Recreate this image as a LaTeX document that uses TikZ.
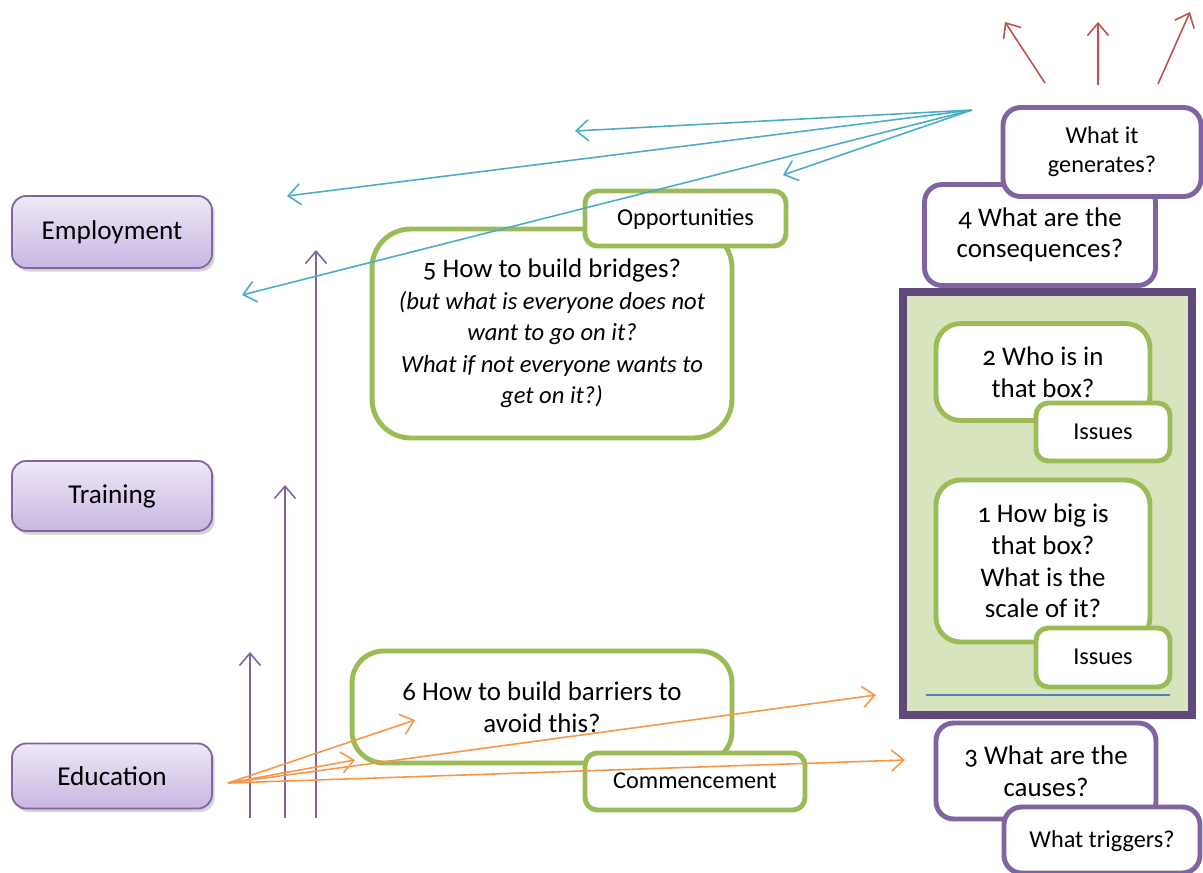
\documentclass[tikz,border=0pt]{standalone}
\usepackage{fontspec}
\setmainfont{Carlito}[Numbers=OldStyle]
\usetikzlibrary{arrows.meta,shadows}
\definecolor{purB}{HTML}{8064A2}
\definecolor{purD}{HTML}{5F497A}
\definecolor{grnB}{HTML}{9BBB59}
\definecolor{grnL}{HTML}{D7E4BD}
\definecolor{bluA}{HTML}{4BACC6}
\definecolor{redA}{HTML}{C0504D}
\definecolor{oraA}{HTML}{F79646}
\definecolor{bluL}{HTML}{4F81BD}
\definecolor{purTop}{HTML}{EEE8F7}
\definecolor{purBot}{HTML}{C9B6E2}
\newcommand{\itl}[1]{\fontsize{14}{17.5}\selectfont\itshape #1}
\tikzset{
  lvl/.style={draw=purB, line width=1pt, rounded corners=8pt, top color=purTop, bottom color=purBot,
    drop shadow={shadow xshift=1.5pt, shadow yshift=-2pt, opacity=0.35}, font=\fontsize{15.5}{18}\selectfont, align=center},
  gbox/.style={draw=grnB, line width=2.8pt, fill=white, rounded corners=14pt, align=center, font=\fontsize{15.3}{18}\selectfont},
  glab/.style={draw=grnB, line width=2.8pt, fill=white, rounded corners=7pt, align=center, font=\fontsize{13.8}{16}\selectfont,
    text height=0.95em, text depth=0.15em},
  pbox/.style={draw=purB, line width=2.8pt, fill=white, rounded corners=10pt, align=center, font=\fontsize{15.3}{18}\selectfont},
  plab/.style={draw=purB, line width=2.8pt, fill=white, rounded corners=10pt, align=center, font=\fontsize{13.8}{16.5}\selectfont},
  tip/.style={-{Straight Barb[length=7pt,width=12pt]}},
  parr/.style={tip, draw=purB, line width=0.9pt},
  barr/.style={tip, draw=bluA, line width=0.9pt},
  rarr/.style={tip, draw=redA, line width=0.9pt},
  oarr/.style={tip, draw=oraA, line width=0.9pt}
}
\begin{document}
\begin{tikzpicture}[x=0.02cm,y=-0.02cm]
\useasboundingbox (0,0) rectangle (1203,872);
% left level boxes
\node[lvl, minimum width=4cm, minimum height=1.44cm] (emp) at (112,232) {Employment};
\node[lvl, minimum width=4cm, minimum height=1.4cm] (trn) at (112,496) {Training};
\node[lvl, minimum width=4cm, minimum height=1.3cm] (edu) at (112,776) {Education};
% right column
\node[pbox, minimum width=4.62cm, minimum height=2.02cm] (cons) at (1040,235) {4 What are the\\consequences?};
\node[plab, minimum width=3.96cm, minimum height=1.78cm] (gen) at (1102,152) {What it\\generates?};
\node[draw=purD, line width=4.5pt, fill=grnL, minimum width=5.78cm, minimum height=8.46cm] (big) at (1047.5,503.5) {};
\node[gbox, minimum width=4.28cm, minimum height=1.94cm] (who) at (1043,372) {2 Who is in\\that box?};
\node[glab, minimum width=2.68cm, minimum height=1.16cm] (iss1) at (1103,432) {Issues};
\node[gbox, minimum width=4.28cm, minimum height=3.24cm] (how) at (1043,561) {1 How big is\\that box?\\What is the\\scale of it?};
\node[glab, minimum width=2.68cm, minimum height=1.18cm] (iss2) at (1103,657.5) {Issues};
\coordinate (bl1) at (926,695);
\coordinate (bl2) at (1170,695);
\draw[bluL, line width=1.6pt] (bl1) -- (bl2);
\node[pbox, minimum width=4.4cm, minimum height=1.92cm] (cause) at (1046,771) {3 What are the\\causes?};
\node[plab, minimum width=3.92cm, minimum height=1.32cm, text height=0.95em, text depth=0.15em] (trig) at (1102,840) {What triggers?};
% middle boxes
\node[gbox, rounded corners=22pt, minimum width=7.2cm, minimum height=4.18cm] (bridge) at (552,333.5)
  {5 How to build bridges?\\\itl{(but what is everyone does not}\\\itl{want to go on it?}\\\itl{What if not everyone wants to}\\\itl{get on it?)}};
\node[glab, minimum width=4.02cm, minimum height=1.1cm] (opp) at (685.5,218.5) {Opportunities};
\node[gbox, rounded corners=18pt, minimum width=7.6cm, minimum height=2.24cm] (barrier) at (542,707) {6 How to build barriers to\\avoid this?};
\node[glab, minimum width=4.4cm, minimum height=1.14cm] (comm) at (695,781.5) {Commencement};
% purple vertical arrows
\coordinate (v1a) at (250,818); \coordinate (v1b) at (250,652);
\coordinate (v2a) at (285,818); \coordinate (v2b) at (285,485);
\coordinate (v3a) at (316,818); \coordinate (v3b) at (316,250);
\draw[parr] (v1a) -- (v1b);
\draw[parr] (v2a) -- (v2b);
\draw[parr] (v3a) -- (v3b);
% blue arrows
\coordinate (bs) at (972,110);
\coordinate (b1) at (575,131);
\coordinate (b2) at (287,196);
\coordinate (b3) at (783,175);
\coordinate (b4) at (242,295);
\draw[barr] (bs) -- (b1);
\draw[barr] (bs) -- (b2);
\draw[barr] (bs) -- (b3);
\draw[barr] (bs) -- (b4);
% red arrows
\coordinate (r1a) at (1045,83); \coordinate (r1b) at (1005,22);
\coordinate (r2a) at (1098,85); \coordinate (r2b) at (1098,22);
\coordinate (r3a) at (1158,84); \coordinate (r3b) at (1190,12);
\draw[rarr] (r1a) -- (r1b);
\draw[rarr] (r2a) -- (r2b);
\draw[rarr] (r3a) -- (r3b);
% orange arrows
\coordinate (os) at (228,783);
\coordinate (o1) at (415,720);
\coordinate (o2) at (355,760);
\coordinate (o3) at (876,695);
\coordinate (o4) at (905,760);
\draw[oarr] (os) -- (o1);
\draw[oarr] (os) -- (o2);
\draw[oarr] (os) -- (o3);
\draw[oarr] (os) -- (o4);
\end{tikzpicture}
\end{document}
